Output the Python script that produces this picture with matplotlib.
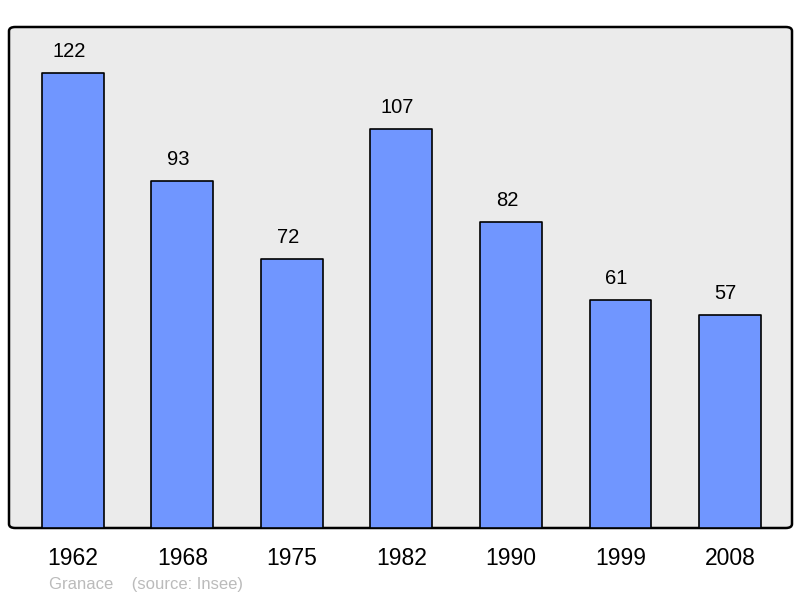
import matplotlib
matplotlib.use("Agg")
import matplotlib.pyplot as plt
from matplotlib.patches import FancyBboxPatch

years = ["1962", "1968", "1975", "1982", "1990", "1999", "2008"]
population = [122, 93, 72, 107, 82, 61, 57]

plt.rcParams['font.family'] = ['Liberation Sans', 'DejaVu Sans']

W, H = 800, 598
fig = plt.figure(figsize=(W / 100, H / 100), dpi=100)
ax = fig.add_axes([9 / W, (H - 528) / H, 783 / W, 501 / H])
ax.set_facecolor('none')

# rounded frame background
frame = FancyBboxPatch((0, 0), 1, 1,
                       boxstyle="round,pad=0,rounding_size=0.008",
                       transform=ax.transAxes, facecolor='#ebebeb',
                       edgecolor='black', linewidth=1.8, zorder=0,
                       clip_on=False)
ax.add_patch(frame)

x = list(range(len(years)))
bars = ax.bar(x, population, width=0.566, color='#7096ff', edgecolor='black',
              linewidth=1.2, joinstyle='round', zorder=2)
for xi, v in zip(x, population):
    ax.annotate(str(v), (xi, v), xytext=(-3, 15.5), textcoords='offset points',
                ha='center', va='center', fontsize=14.5, color='black')

ax.set_xlim(-0.584, 6.566)
ax.set_ylim(0, 134.3)
ax.set_yticks([])
ax.set_xticks(x)
ax.set_xticklabels(years, fontsize=16.5)
ax.tick_params(axis='x', length=0, pad=14)
for s in ax.spines.values():
    s.set_visible(False)

fig.text(49 / W, 1 - 584 / H, "Granace    (source: Insee)", fontsize=12,
         color='#bbbbbb', ha='left', va='center')

fig.savefig("out.png", dpi=100)
